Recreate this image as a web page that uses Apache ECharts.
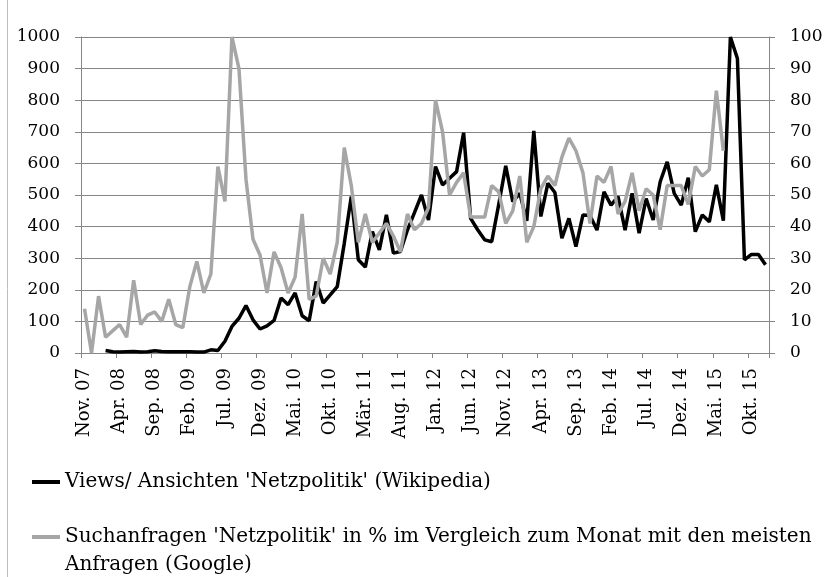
<!DOCTYPE html>
<html>
<head>
<meta charset="utf-8">
<script src="https://cdn.jsdelivr.net/npm/echarts@6/dist/echarts.min.js"></script>
<style>
html,body{margin:0;padding:0;background:#fff;}
#chart{width:828px;height:577px;}
</style>
</head>
<body>
<div id="chart"></div>
<script>
const categories = ["Nov. 07","Dez. 07",
"Jan. 08","Feb. 08","Mär. 08","Apr. 08","Mai. 08","Jun. 08","Jul. 08","Aug. 08","Sep. 08","Okt. 08","Nov. 08","Dez. 08",
"Jan. 09","Feb. 09","Mär. 09","Apr. 09","Mai. 09","Jun. 09","Jul. 09","Aug. 09","Sep. 09","Okt. 09","Nov. 09","Dez. 09",
"Jan. 10","Feb. 10","Mär. 10","Apr. 10","Mai. 10","Jun. 10","Jul. 10","Aug. 10","Sep. 10","Okt. 10","Nov. 10","Dez. 10",
"Jan. 11","Feb. 11","Mär. 11","Apr. 11","Mai. 11","Jun. 11","Jul. 11","Aug. 11","Sep. 11","Okt. 11","Nov. 11","Dez. 11",
"Jan. 12","Feb. 12","Mär. 12","Apr. 12","Mai. 12","Jun. 12","Jul. 12","Aug. 12","Sep. 12","Okt. 12","Nov. 12","Dez. 12",
"Jan. 13","Feb. 13","Mär. 13","Apr. 13","Mai. 13","Jun. 13","Jul. 13","Aug. 13","Sep. 13","Okt. 13","Nov. 13","Dez. 13",
"Jan. 14","Feb. 14","Mär. 14","Apr. 14","Mai. 14","Jun. 14","Jul. 14","Aug. 14","Sep. 14","Okt. 14","Nov. 14","Dez. 14",
"Jan. 15","Feb. 15","Mär. 15","Apr. 15","Mai. 15","Jun. 15","Jul. 15","Aug. 15","Sep. 15","Okt. 15","Nov. 15","Dez. 15"];

const wikiName = "Views/ Ansichten 'Netzpolitik' (Wikipedia)";
const googleName = "Suchanfragen 'Netzpolitik' in % im Vergleich zum Monat mit den meisten Anfragen (Google)";
const googleLegendLines = ["Suchanfragen 'Netzpolitik' in % im Vergleich zum Monat mit den meisten", "Anfragen (Google)"];

const wikiViews = [null,null,null,8,4,3,4,5,3,4,7,5,4,4,4,4,3,3,10,8,37,84,110,150,105,76,86,103,174,153,190,118,102,226,158,184,210,347,495,295,272,384,326,437,316,321,389,444,500,421,590,532,553,574,697,426,390,358,352,470,592,479,505,418,703,432,537,508,363,426,337,437,435,389,510,468,495,389,505,379,489,421,542,605,505,468,555,384,437,415,532,419,1000,932,295,312,312,279];

const googleSearch = [14,0,18,5,7,9,5,23,9,12,13,10,17,9,8,21,29,19,25,59,48,100,90,55,36,31,19,32,27,19,24,44,17,18,30,25,35,65,53,35,44,35,38,41,37,32,44,39,41,46,80,70,50,54,57,43,43,43,53,51,41,45,56,35,40,52,56,53,62,68,64,57,41,56,54,59,44,48,57,45,52,50,39,53,53,53,47,59,56,58,83,64];

const leftTicks = [0,1000,100];
const rightTicks = [0,100,10];

const FONT = "DejaVu Serif";
const axisGray = "#868686";

const chart = echarts.init(document.getElementById('chart'), null, {renderer:'canvas'});
chart.setOption({
  backgroundColor: '#ffffff',
  animation: false,
  grid: {left: 81, right: 59, top: 37, bottom: 224, containLabel: false},
  xAxis: {
    type: 'category',
    data: categories,
    boundaryGap: true,
    axisLine: {show: true, lineStyle: {color: axisGray, width: 1}},
    axisTick: {show: true, interval: 4, length: 5, lineStyle: {color: axisGray}},
    axisLabel: {interval: 4, rotate: 90, margin: 15, color: '#000', fontFamily: FONT, fontSize: 18},
    splitLine: {show: false}
  },
  yAxis: [{
    type: 'value', min: leftTicks[0], max: leftTicks[1], interval: leftTicks[2], position: 'left',
    axisLine: {show: true, lineStyle: {color: axisGray, width: 1}},
    axisTick: {show: true, length: 6, lineStyle: {color: axisGray}},
    axisLabel: {margin: 21, color: '#000', fontFamily: FONT, fontSize: 17, formatter: function(v){return String(v);}},
    splitLine: {show: true, lineStyle: {color: axisGray, width: 1}}
  },{
    type: 'value', min: rightTicks[0], max: rightTicks[1], interval: rightTicks[2], position: 'right',
    axisLine: {show: true, lineStyle: {color: axisGray, width: 1}},
    axisTick: {show: true, length: 6, lineStyle: {color: axisGray}},
    axisLabel: {margin: 21, color: '#000', fontFamily: FONT, fontSize: 17, formatter: function(v){return String(v);}},
    splitLine: {show: false}
  }],
  legend: [{
    data: [wikiName],
    orient: 'vertical',
    left: 27, top: 463,
    icon: 'rect', itemWidth: 28, itemHeight: 4,
    textStyle: {fontFamily: FONT, fontSize: 20, color: '#000', lineHeight: 28}
  },{
    data: [googleName],
    orient: 'vertical',
    left: 27, top: 490,
    icon: 'rect', itemWidth: 28, itemHeight: 4,
    formatter: function(n){ return "\n" + googleLegendLines.join("\n"); },
    textStyle: {fontFamily: FONT, fontSize: 20, color: '#000', lineHeight: 28}
  }],
  graphic: [{
    type: 'line', shape: {x1: 7.5, y1: 0, x2: 7.5, y2: 577}, style: {stroke: '#bdbdbd', lineWidth: 1}, silent: true
  }],
  series: [{
    name: wikiName, type: 'line', yAxisIndex: 0, data: wikiViews,
    showSymbol: false, symbol: 'none', connectNulls: false,
    lineStyle: {color: '#000000', width: 3.5},
    itemStyle: {color: '#000000'}
  },{
    name: googleName, type: 'line', yAxisIndex: 1, data: googleSearch,
    showSymbol: false, symbol: 'none',
    lineStyle: {color: '#a6a6a6', width: 3.5},
    itemStyle: {color: '#a6a6a6'}
  }]
});
</script>
</body>
</html>
